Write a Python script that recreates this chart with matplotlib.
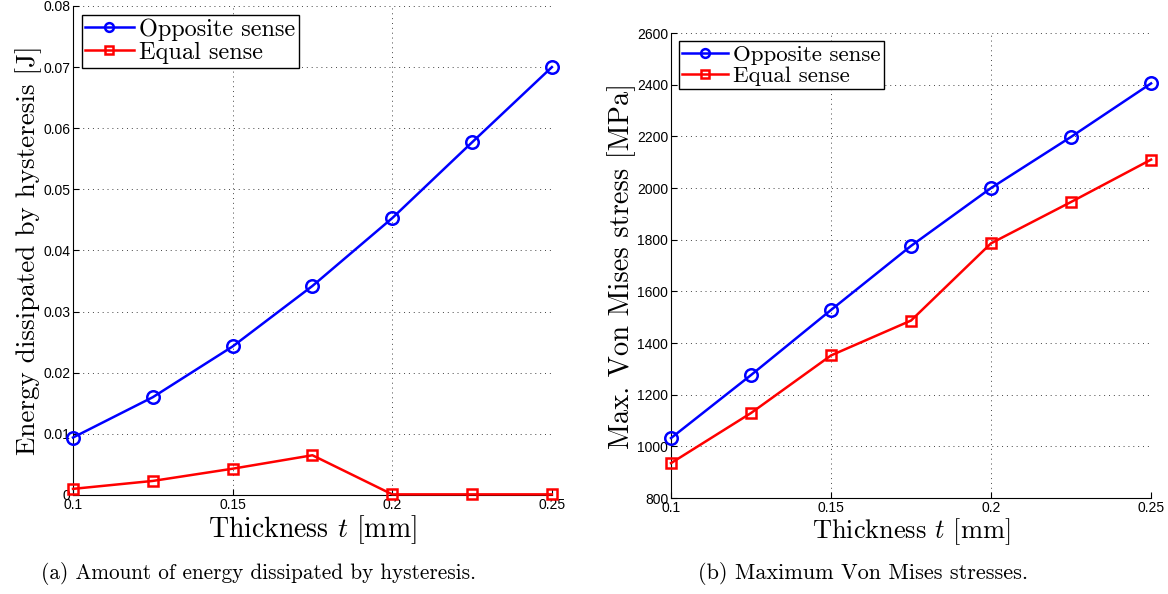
import matplotlib
matplotlib.use("Agg")
import matplotlib.pyplot as plt

# Thickness values [mm]
thickness = [0.1, 0.125, 0.15, 0.175, 0.2, 0.225, 0.25]

# Energy dissipated by hysteresis [J]
energy_opposite = [0.0094, 0.0160, 0.0243, 0.0342, 0.0453, 0.0577, 0.0700]
energy_equal = [0.0010, 0.0023, 0.0043, 0.0065, 0.0001, 0.0001, 0.0001]

# Maximum Von Mises stress [MPa]
stress_opposite = [1032, 1276, 1528, 1776, 2000, 2198, 2405]
stress_equal = [935, 1129, 1352, 1487, 1786, 1946, 2110]

x_ticks = [0.1, 0.15, 0.2, 0.25]
x_tick_labels = ["0.1", "0.15", "0.2", "0.25"]
energy_ticks = [0, 0.01, 0.02, 0.03, 0.04, 0.05, 0.06, 0.07, 0.08]
energy_tick_labels = ["0", "0.01", "0.02", "0.03", "0.04", "0.05", "0.06", "0.07", "0.08"]
stress_ticks = list(range(800, 2601, 200))

plt.rcParams["mathtext.fontset"] = "cm"
serif = "cmr10"
tick_font = "Liberation Sans"


def style_axes(ax):
    ax.spines["top"].set_visible(False)
    ax.spines["right"].set_visible(False)
    ax.tick_params(direction="in", length=4, width=0.8, pad=2)
    ax.grid(True, linestyle=(0, (1, 4)), color="#444444", linewidth=0.7)
    for lab in ax.get_xticklabels() + ax.get_yticklabels():
        lab.set_fontfamily(tick_font)
        lab.set_fontsize(10)


def draw(ax, y_opp, y_eq, legend_size):
    ax.plot(thickness, y_opp, color="blue", linewidth=1.8, marker="o",
            markersize=9, markerfacecolor="none", markeredgewidth=1.8,
            label="Opposite sense", clip_on=False, zorder=3)
    ax.plot(thickness, y_eq, color="red", linewidth=1.8, marker="s",
            markersize=7.5, markerfacecolor="none", markeredgewidth=1.8,
            label="Equal sense", clip_on=False, zorder=3)
    leg = ax.legend(loc="upper left", prop={"family": serif, "size": legend_size},
                    fancybox=False, framealpha=1, edgecolor="black",
                    borderpad=0.15, labelspacing=0.05, handlelength=2.0,
                    handletextpad=0.2, borderaxespad=0.35,
                    markerscale=0.7)
    leg.get_frame().set_linewidth(1.0)


fig = plt.figure(figsize=(11.68, 5.94), dpi=100)

# (a) energy dissipated
ax1 = fig.add_axes([0.0625, 0.1667, 0.410, 0.8232])
draw(ax1, energy_opposite, energy_equal, 17.5)
ax1.set_xlim(0.1, 0.25)
ax1.set_ylim(0, 0.08)
ax1.set_xticks(x_ticks)
ax1.set_xticklabels(x_tick_labels)
ax1.set_yticks(energy_ticks)
ax1.set_yticklabels(energy_tick_labels)
ax1.set_xlabel("Thickness $t$ [mm]", fontfamily=serif, fontsize=20, labelpad=1)
ax1.set_ylabel("Energy dissipated by hysteresis [J]", fontfamily=serif,
               fontsize=19.5, labelpad=1)
style_axes(ax1)

# (b) Von Mises stresses
ax2 = fig.add_axes([0.5745, 0.1616, 0.411, 0.7828])
draw(ax2, stress_opposite, stress_equal, 16.5)
ax2.set_xlim(0.1, 0.25)
ax2.set_ylim(800, 2600)
ax2.set_xticks(x_ticks)
ax2.set_xticklabels(x_tick_labels)
ax2.set_yticks(stress_ticks)
ax2.set_yticklabels([str(v) for v in stress_ticks])
ax2.set_xlabel("Thickness $t$ [mm]", fontfamily=serif, fontsize=19, labelpad=1)
ax2.set_ylabel("Max. Von Mises stress [MPa]", fontfamily=serif,
               fontsize=20.5, labelpad=1)
style_axes(ax2)

fig.text(0.221, 0.034, "(a) Amount of energy dissipated by hysteresis.",
         ha="center", va="center", fontfamily=serif, fontsize=15.3)
fig.text(0.739, 0.034, "(b) Maximum Von Mises stresses.",
         ha="center", va="center", fontfamily=serif, fontsize=16)

fig.savefig("out.png", dpi=100)
